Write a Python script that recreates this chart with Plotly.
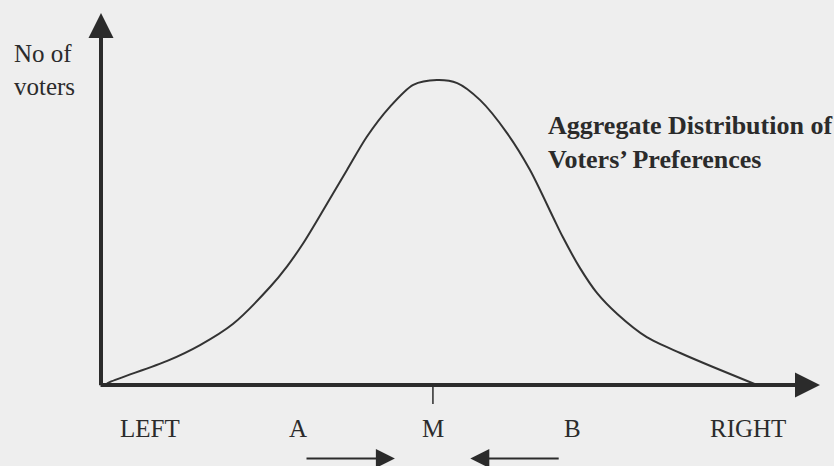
import plotly.graph_objects as go

# Aggregate distribution of voters' preferences along the left-right scale
position = [0.6, 1.4, 10.1, 15.1, 20.1, 25.8, 28.4, 30.8, 32.9, 37.5, 40.5,
            44.0, 47.6, 51.2, 54.3, 57.8, 61.9, 65.4, 68.9, 70.4, 73.0, 75.6, 78.7,
            83.2, 88.3, 93.3, 100.0]
voters = [0.0, 1.0, 7.9, 13.1, 20.0, 32.2, 39.0, 46.4, 53.8, 70.5, 81.3,
          91.1, 98.4, 100.0, 99.0, 93.4, 82.6, 70.5, 55.1, 48.5, 38.4, 30.2, 23.3,
          15.7, 10.5, 5.9, 0.0]

# Scale labels and where they sit on the axis
scale_labels = ["LEFT", "A", "M", "B", "RIGHT"]
scale_pos = [7.5, 30.0, 50.6, 71.8, 98.6]
median_pos = 50.6

# Parties A and B converging on the median voter
move_from = [31.1, 70.0]
move_to = [44.8, 56.3]

ink = "#2b2b2b"
serif = "Liberation Serif"

fig = go.Figure()
fig.add_trace(go.Scatter(
    x=position, y=voters, mode="lines",
    line=dict(color="#333333", width=2, shape="spline", smoothing=0.8),
    hoverinfo="skip", showlegend=False,
))

annotations = []
# Axes with arrowheads
annotations.append(dict(x=0, y=122, ax=0, ay=-0.6, xref="x", yref="y", axref="x", ayref="y",
                        text="", showarrow=True, arrowhead=2, arrowsize=1.25,
                        arrowwidth=4, arrowcolor=ink))
annotations.append(dict(x=109.6, y=0, ax=-0.3, ay=0, xref="x", yref="y", axref="x", ayref="y",
                        text="", showarrow=True, arrowhead=2, arrowsize=1.25,
                        arrowwidth=4, arrowcolor=ink))
# Convergence arrows below the axis
for a, b in zip(move_from, move_to):
    annotations.append(dict(x=b, y=-24.1, ax=a, ay=-24.1, xref="x", yref="y",
                            axref="x", ayref="y", text="", showarrow=True,
                            arrowhead=2, arrowsize=1.9, arrowwidth=2, arrowcolor=ink))
# Scale labels
for lab, p in zip(scale_labels, scale_pos):
    annotations.append(dict(x=p, y=-14.1, xref="x", yref="y", text=lab, showarrow=False,
                            xanchor="center", yanchor="middle",
                            font=dict(family=serif, size=25, color=ink)))
# Axis title and curve caption
annotations.append(dict(x=-13.6, y=103.3, xref="x", yref="y", text="No of<br>voters",
                        showarrow=False, xanchor="left", yanchor="middle", align="left",
                        font=dict(family=serif, size=25, color=ink)))
annotations.append(dict(x=67.8, y=79.6, xref="x", yref="y",
                        text="<b>Aggregate Distribution of<br>Voters’ Preferences</b>",
                        showarrow=False, xanchor="left", yanchor="middle", align="left",
                        font=dict(family=serif, size=26, color=ink)))

# Axis ranges span the whole canvas so labels and arrows below the axis stay visible
fig.update_layout(
    width=834, height=466,
    margin=dict(l=0, r=0, t=0, b=0),
    paper_bgcolor="#eeeeee", plot_bgcolor="#eeeeee",
    xaxis=dict(range=[-15.396, 111.738], visible=False, fixedrange=True),
    yaxis=dict(range=[-26.557, 126.23], visible=False, fixedrange=True),
    annotations=annotations,
    shapes=[dict(type="line", xref="x", yref="y", x0=median_pos, x1=median_pos,
                 y0=0, y1=-6.2, line=dict(color=ink, width=1.5))],
)

fig.write_html("out.html", config={"displayModeBar": False})
